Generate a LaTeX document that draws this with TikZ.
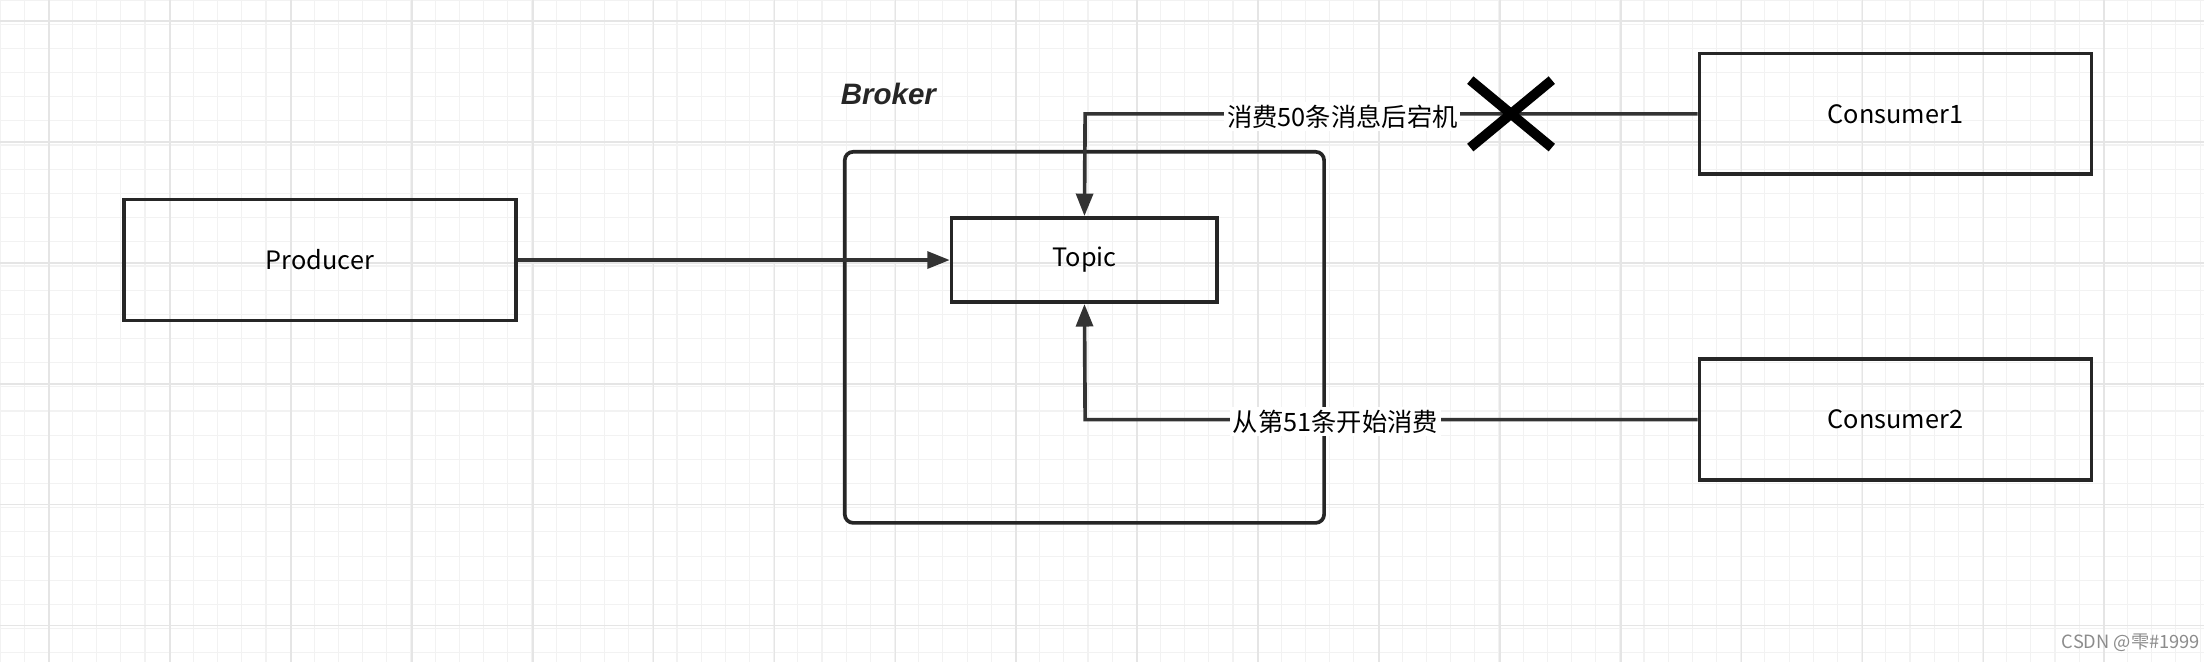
\documentclass[tikz,border=0pt]{standalone}
\usepackage{fontspec}
\setmainfont{Noto Sans CJK SC}
\newfontfamily\latinit{Liberation Sans}
\usetikzlibrary{arrows.meta}
\begin{document}
\begin{tikzpicture}[x=0.5pt,y=-0.5pt,
  box/.style={draw=black!85,line width=1.3pt,minimum width=139.5pt,minimum height=43pt,inner sep=0pt,font=\fontsize{9}{10}\selectfont},
  conn/.style={draw=black!80,line width=1.3pt},
  arr/.style={conn,-{Triangle[length=8pt,width=6pt]}},
  lab/.style={fill=white,inner sep=1pt,font=\fontsize{9}{10}\selectfont}]
\useasboundingbox (0,0) rectangle (1568,471);
\fill[white] (0,0) rectangle (1568,471);
\foreach \i in {0,...,92} \draw[black!5,line width=0.4pt] ({\i*17.2},0) -- ({\i*17.2},471);
\foreach \i in {0,...,28} \draw[black!5,line width=0.4pt] (0,{\i*17.2}) -- (1568,{\i*17.2});
\foreach \i in {0,...,18} \draw[black!10,line width=0.6pt] ({35+\i*86},0) -- ({35+\i*86},471);
\foreach \i in {0,...,5} \draw[black!10,line width=0.6pt] (0,{15+\i*86}) -- (1568,{15+\i*86});
\draw[black!85,line width=1.3pt,rounded corners=3pt] (601,108) rectangle (942,372);
\node[font=\latinit\bfseries\itshape\fontsize{10.5}{12}\selectfont,text=black!85] (brk) at (632,67) {Broker};
\node[box] (prod) at (227.5,185) {Producer};
\node[box,minimum width=94.5pt,minimum height=30pt] (topic) at (771.5,185) {Topic};
\node[box] (c1) at (1348.5,81) {Consumer1};
\node[box] (c2) at (1348.5,298.5) {Consumer2};
\draw[arr] (prod) -- (topic);
\draw[arr] (c1.west) -- (772,81) -- (topic.north);
\draw[arr] (c2.west) -- (772,298.5) -- (topic.south);
\node[lab] (l1) at (955,83) {消费50条消息后宕机};
\node[lab] (l2) at (950,300) {从第51条开始消费};
\draw[black,line width=3.5pt] (1046,57) -- (1104,105) (1046,105) -- (1104,57);
\node[text=black!45,font=\fontsize{6.5}{7}\selectfont] (wm) at (1516,457) {CSDN @雫\#1999};
\end{tikzpicture}
\end{document}
